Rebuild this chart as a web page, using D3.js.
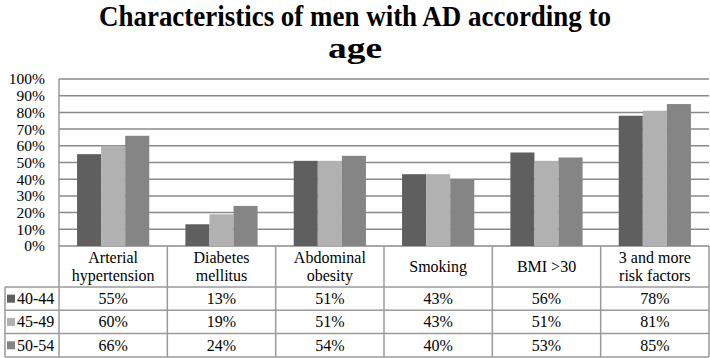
<!DOCTYPE html>
<html>
<head>
<meta charset="utf-8">
<script src="https://cdn.jsdelivr.net/npm/d3@7"></script>
</head>
<body style="margin:0">
<div id="chart"></div>
<script>
// data
const categories = [
  ["Arterial", "hypertension"],
  ["Diabetes", "mellitus"],
  ["Abdominal", "obesity"],
  ["Smoking"],
  ["BMI >30"],
  ["3 and more", "risk factors"]
];
const seriesNames = ["40-44", "45-49", "50-54"];
const values4044 = [55, 13, 51, 43, 56, 78];
const values4549 = [60, 19, 51, 43, 51, 81];
const values5054 = [66, 24, 54, 40, 53, 85];
const yTicks = [0, 10, 20, 30, 40, 50, 60, 70, 80, 90, 100];
const colors = ["#5f5f5f", "#b1b1b1", "#858585"];

const series = [values4044, values4549, values5054];

const W = 710, H = 358;
const plotL = 59, plotR = 709, plotT = 79, plotB = 246;
const tableL = 5, rowH = 23.3, headerB = 287;
const gridColor = "#8a8a8a";
const tableColor = "#9a9a9a";
const FONT = "Liberation Serif";

const svg = d3.select("#chart").append("svg")
  .attr("width", W)
  .attr("height", H);

// title (two lines, narrow like the original)
svg.append("text")
  .attr("x", W / 2).attr("y", 25.5)
  .attr("text-anchor", "middle")
  .attr("font-family", FONT)
  .attr("font-weight", "bold")
  .attr("font-size", 29)
  .attr("textLength", 512)
  .attr("lengthAdjust", "spacingAndGlyphs")
  .text("Characteristics of men with AD according to");
svg.append("text")
  .attr("x", W / 2).attr("y", 57.5)
  .attr("text-anchor", "middle")
  .attr("font-family", FONT)
  .attr("font-weight", "bold")
  .attr("font-size", 29)
  .attr("textLength", 54)
  .attr("lengthAdjust", "spacingAndGlyphs")
  .text("age");

const x0 = d3.scaleBand()
  .domain(d3.range(categories.length))
  .range([plotL, plotR]);

const x1 = d3.scaleBand()
  .domain(d3.range(seriesNames.length))
  .range([0, x0.bandwidth()])
  .paddingOuter(0.75);

const y = d3.scaleLinear().domain([0, 100]).range([plotB, plotT]);

// gridlines
svg.append("g")
  .selectAll("line")
  .data(yTicks)
  .join("line")
  .attr("x1", plotL).attr("x2", plotR)
  .attr("y1", d => y(d)).attr("y2", d => y(d))
  .attr("stroke", gridColor)
  .attr("stroke-width", 1.5);

// y axis labels
const yAxis = svg.append("g")
  .attr("transform", `translate(${plotL},0)`)
  .call(d3.axisLeft(y).tickValues(yTicks).tickSize(0).tickPadding(14).tickFormat(d => d + "%"));
yAxis.attr("font-family", FONT).attr("font-size", 15.5);
yAxis.select(".domain").remove();
yAxis.selectAll("text")
  .attr("font-family", FONT)
  .attr("font-size", 15.5)
  .attr("fill", "#000");

// bars
svg.append("g")
  .selectAll("g")
  .data(series)
  .join("g")
  .attr("fill", (d, i) => colors[i])
  .each(function (vals, si) {
    d3.select(this).selectAll("rect")
      .data(vals)
      .join("rect")
      .attr("x", (d, ci) => x0(ci) + x1(si))
      .attr("width", x1.bandwidth())
      .attr("y", d => y(d))
      .attr("height", d => y(0) - y(d));
  });

// data table
const table = svg.append("g")
  .attr("stroke", tableColor)
  .attr("stroke-width", 1.5);

// plot left border running down through the table
table.append("line")
  .attr("x1", plotL).attr("x2", plotL)
  .attr("y1", plotT).attr("y2", headerB + rowH * 3);

// column borders
table.selectAll("line.col")
  .data(d3.range(1, categories.length + 1))
  .join("line")
  .attr("class", "col")
  .attr("x1", i => x0(i - 1) + x0.bandwidth()).attr("x2", i => x0(i - 1) + x0.bandwidth())
  .attr("y1", plotB).attr("y2", headerB + rowH * 3);

// row borders
table.selectAll("line.row")
  .data(d3.range(4))
  .join("line")
  .attr("class", "row")
  .attr("x1", tableL).attr("x2", plotR)
  .attr("y1", r => headerB + r * rowH).attr("y2", r => headerB + r * rowH);

table.append("line")
  .attr("x1", tableL).attr("x2", tableL)
  .attr("y1", headerB).attr("y2", headerB + rowH * 3);

// header labels
svg.append("g")
  .selectAll("text")
  .data(categories)
  .join("text")
  .attr("text-anchor", "middle")
  .attr("font-family", FONT)
  .attr("font-size", 16)
  .attr("x", (d, i) => x0(i) + x0.bandwidth() / 2)
  .attr("y", d => d.length === 1 ? 272 : 263)
  .each(function (lines) {
    d3.select(this).selectAll("tspan")
      .data(lines)
      .join("tspan")
      .attr("x", d3.select(this).attr("x"))
      .attr("dy", (d, k) => k === 0 ? 0 : 18)
      .text(d => d);
  });

// rows: legend key + values
const rows = svg.append("g")
  .selectAll("g")
  .data(series)
  .join("g")
  .attr("transform", (d, i) => `translate(0,${headerB + i * rowH})`);

rows.append("rect")
  .attr("x", 7).attr("y", rowH / 2 - 4)
  .attr("width", 8).attr("height", 8)
  .attr("fill", (d, i) => colors[i]);

rows.append("text")
  .attr("x", 17).attr("y", rowH / 2 + 5.5)
  .attr("font-family", FONT)
  .attr("font-size", 16)
  .text((d, i) => seriesNames[i]);

rows.selectAll("text.val")
  .data(d => d)
  .join("text")
  .attr("class", "val")
  .attr("text-anchor", "middle")
  .attr("font-family", FONT)
  .attr("font-size", 16)
  .attr("x", (d, ci) => x0(ci) + x0.bandwidth() / 2)
  .attr("y", rowH / 2 + 5.5)
  .text(d => d + "%");
</script>
</body>
</html>
